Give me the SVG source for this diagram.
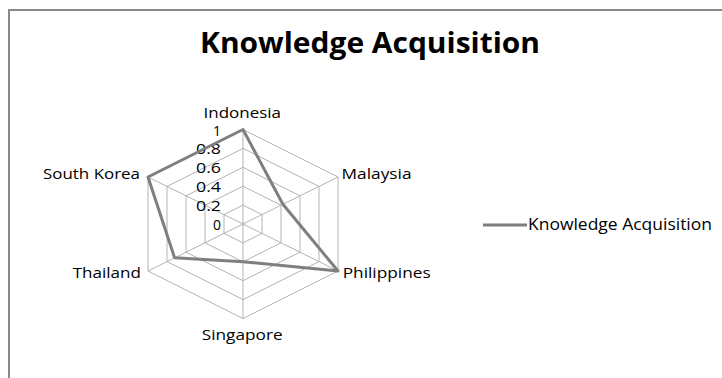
<svg xmlns="http://www.w3.org/2000/svg" width="722" height="378" viewBox="0 0 722 378">
  <style>
    text { font-family: "Open Sans", "Liberation Sans", sans-serif; fill: #000; }
    .lbl { font-size: 15px; }
    .tick { font-size: 14px; text-anchor: end; }
    .grid { fill: none; stroke: #b3b3b3; stroke-width: 1; }
    .series { fill: none; stroke: #7f7f7f; stroke-width: 3; stroke-linejoin: round; }
  </style>
  <rect x="0" y="0" width="722" height="378" fill="#fff"/>
  <g id="frame">
    <path d="M9 378 V10 H722" fill="none" stroke="#888" stroke-width="2"/>
  </g>
  <g id="title">
    <text x="370" y="53" text-anchor="middle" font-size="28" font-weight="bold" textLength="340" lengthAdjust="spacingAndGlyphs">Knowledge Acquisition</text>
  </g>
  <g id="grid">
    <polygon class="grid" points="243,205.1 262,214.6 262,233.4 243,242.9 224,233.4 224,214.6"/>
    <polygon class="grid" points="243,186.2 281,205.2 281,242.8 243,261.8 205,242.8 205,205.2"/>
    <polygon class="grid" points="243,167.3 300,195.8 300,252.2 243,280.7 186,252.2 186,195.8"/>
    <polygon class="grid" points="243,148.4 319,186.4 319,261.6 243,299.6 167,261.6 167,186.4"/>
    <polygon class="grid" points="243,129.5 338,177 338,271 243,318.5 148,271 148,177"/>
    <path class="grid" d="M243 224 L243 129.5 M243 224 L338 177 M243 224 L338 271 M243 224 L243 318.5 M243 224 L148 271 M243 224 L148 177"/>
  </g>
  <g id="ticks">
    <text class="tick" x="221" y="135.5">1</text>
    <text class="tick" x="221" y="154" textLength="25" lengthAdjust="spacingAndGlyphs">0.8</text>
    <text class="tick" x="221" y="173" textLength="25" lengthAdjust="spacingAndGlyphs">0.6</text>
    <text class="tick" x="221" y="192" textLength="25" lengthAdjust="spacingAndGlyphs">0.4</text>
    <text class="tick" x="221" y="211" textLength="25" lengthAdjust="spacingAndGlyphs">0.2</text>
    <text class="tick" x="221" y="229.5">0</text>
  </g>
  <g id="connectors">
    <polygon id="series-knowledge-acquisition" class="series" points="243,129.5 282.9,204.3 338,271 243,261.8 174.6,257.8 148,177"/>
  </g>
  <g id="node-indonesia"><text class="lbl" x="203.5" y="117.5" textLength="77.5" lengthAdjust="spacingAndGlyphs">Indonesia</text></g>
  <g id="node-malaysia"><text class="lbl" x="341.5" y="179" textLength="70" lengthAdjust="spacingAndGlyphs">Malaysia</text></g>
  <g id="node-philippines"><text class="lbl" x="342.7" y="278" textLength="88" lengthAdjust="spacingAndGlyphs">Philippines</text></g>
  <g id="node-singapore"><text class="lbl" x="201.7" y="340" textLength="81" lengthAdjust="spacingAndGlyphs">Singapore</text></g>
  <g id="node-thailand"><text class="lbl" x="72.7" y="278" textLength="68.3" lengthAdjust="spacingAndGlyphs">Thailand</text></g>
  <g id="node-south-korea"><text class="lbl" x="43" y="179" textLength="97" lengthAdjust="spacingAndGlyphs">South Korea</text></g>
  <g id="legend">
    <line x1="483" y1="225" x2="527" y2="225" stroke="#7f7f7f" stroke-width="3"/>
    <text x="528" y="230" font-size="16" textLength="184" lengthAdjust="spacingAndGlyphs">Knowledge Acquisition</text>
  </g>
</svg>
